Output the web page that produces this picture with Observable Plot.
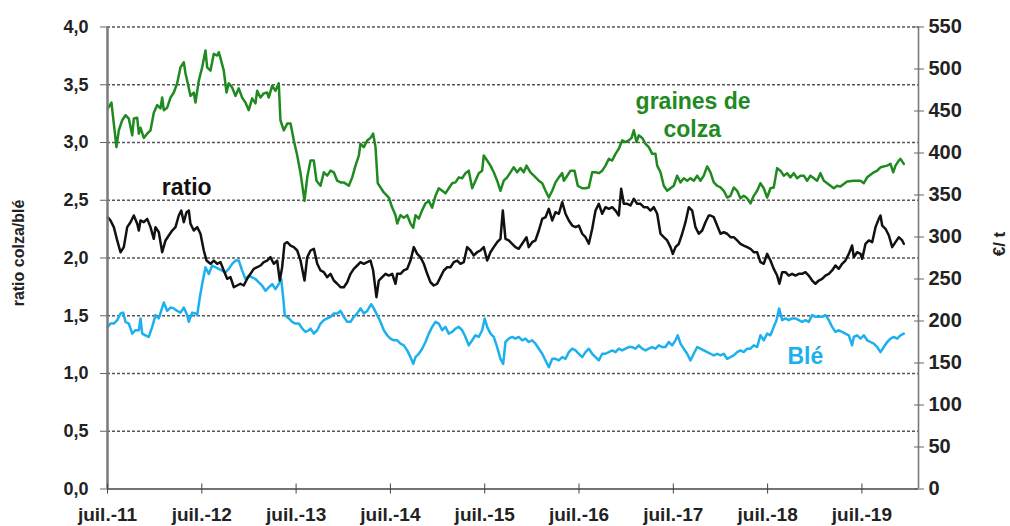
<!DOCTYPE html>
<html><head><meta charset="utf-8">
<script src="https://cdn.jsdelivr.net/npm/d3@7"></script>
<script src="https://cdn.jsdelivr.net/npm/@observablehq/plot@0.6"></script>
<style>body{margin:0;background:#fff} svg{display:block}</style>
</head><body><div id="chart"></div>
<script>
// ---- x axis ticks (decimal years, July = .5) ----
const xTicks = [2011.5,2012.5,2013.5,2014.5,2015.5,2016.5,2017.5,2018.5,2019.5];
const xLabels = ["juil.-11","juil.-12","juil.-13","juil.-14","juil.-15","juil.-16","juil.-17","juil.-18","juil.-19"];
const leftTicks = [0,0.5,1,1.5,2,2.5,3,3.5,4];
const rightTicks = [0,50,100,150,200,250,300,350,400,450,500,550];

// ---- graines de colza (€/t) ----
const colzaT = [2011.503,2011.542,2011.595,2011.620,2011.656,2011.691,2011.726,2011.762,2011.779,2011.815,2011.832,2011.850,2011.885,2011.921,2011.956,2011.991,2012.027,2012.062,2012.080,2012.097,2012.133,2012.168,2012.203,2012.239,2012.274,2012.309,2012.327,2012.345,2012.380,2012.415,2012.433,2012.468,2012.504,2012.539,2012.557,2012.592,2012.627,2012.663,2012.680,2012.698,2012.733,2012.762,2012.786,2012.822,2012.857,2012.892,2012.928,2012.963,2012.998,2013.034,2013.069,2013.087,2013.122,2013.157,2013.193,2013.210,2013.246,2013.281,2013.316,2013.334,2013.369,2013.406,2013.441,2013.476,2013.512,2013.547,2013.589,2013.618,2013.653,2013.688,2013.716,2013.759,2013.794,2013.830,2013.865,2013.900,2013.936,2013.971,2014.006,2014.059,2014.095,2014.130,2014.165,2014.183,2014.218,2014.254,2014.289,2014.317,2014.342,2014.366,2014.395,2014.430,2014.483,2014.519,2014.554,2014.572,2014.607,2014.642,2014.678,2014.713,2014.742,2014.766,2014.801,2014.837,2014.872,2014.907,2014.943,2014.978,2015.013,2015.049,2015.084,2015.119,2015.155,2015.190,2015.225,2015.261,2015.296,2015.331,2015.367,2015.402,2015.437,2015.473,2015.490,2015.526,2015.561,2015.596,2015.632,2015.667,2015.702,2015.738,2015.773,2015.808,2015.844,2015.879,2015.914,2015.943,2015.985,2016.021,2016.074,2016.110,2016.145,2016.180,2016.216,2016.251,2016.286,2016.322,2016.339,2016.375,2016.410,2016.452,2016.487,2016.534,2016.569,2016.604,2016.640,2016.675,2016.710,2016.746,2016.781,2016.816,2016.852,2016.887,2016.922,2016.958,2016.993,2017.028,2017.057,2017.081,2017.110,2017.134,2017.170,2017.205,2017.240,2017.276,2017.311,2017.329,2017.364,2017.399,2017.435,2017.470,2017.505,2017.541,2017.576,2017.611,2017.647,2017.682,2017.717,2017.753,2017.788,2017.823,2017.859,2017.894,2017.929,2017.965,2018.000,2018.035,2018.071,2018.106,2018.141,2018.177,2018.212,2018.247,2018.283,2018.318,2018.353,2018.389,2018.424,2018.459,2018.495,2018.530,2018.565,2018.601,2018.636,2018.671,2018.707,2018.742,2018.777,2018.813,2018.848,2018.884,2018.919,2018.954,2018.990,2019.025,2019.060,2019.096,2019.131,2019.202,2019.237,2019.272,2019.343,2019.414,2019.485,2019.520,2019.556,2019.626,2019.662,2019.697,2019.768,2019.803,2019.832,2019.856,2019.891,2019.909,2019.944];
const colzaV = [453,460,407,427,439,445,441,421,441,442,423,430,418,423,427,448,457,453,466,451,454,466,472,483,502,508,495,486,468,472,460,486,502,522,502,498,518,516,520,513,498,472,483,478,468,477,466,460,451,465,459,474,466,471,472,466,480,474,483,439,427,435,435,415,397,376,343,371,391,391,367,361,377,373,379,377,367,365,365,361,371,385,397,411,407,415,418,423,407,364,359,353,347,335,326,316,326,323,326,316,311,326,322,332,340,343,335,349,358,355,352,358,364,365,371,370,376,379,358,367,376,379,397,391,385,377,367,355,367,371,377,383,377,382,377,385,377,373,367,364,355,347,355,365,371,376,367,373,379,379,361,358,358,359,377,377,376,379,385,393,391,399,405,415,413,415,418,427,413,421,418,411,407,399,399,385,377,361,355,358,361,373,365,370,367,370,367,373,367,373,384,377,365,361,359,355,347,349,359,355,346,349,346,340,349,355,364,358,347,358,359,382,379,373,376,371,376,370,373,373,367,373,370,367,376,367,364,358,361,360,366,367,367,364,371,377,379,383,385,387,377,385,391,393,387];

// ---- ratio colza/blé ----
const ratioT = [2011.503,2011.532,2011.567,2011.603,2011.638,2011.673,2011.709,2011.744,2011.779,2011.815,2011.832,2011.850,2011.885,2011.921,2011.956,2011.991,2012.009,2012.044,2012.080,2012.115,2012.150,2012.186,2012.221,2012.256,2012.282,2012.309,2012.338,2012.362,2012.380,2012.415,2012.451,2012.486,2012.521,2012.550,2012.592,2012.627,2012.663,2012.698,2012.733,2012.769,2012.804,2012.839,2012.875,2012.910,2012.945,2012.981,2013.016,2013.051,2013.087,2013.122,2013.157,2013.193,2013.228,2013.263,2013.299,2013.327,2013.352,2013.377,2013.406,2013.441,2013.476,2013.512,2013.547,2013.589,2013.618,2013.653,2013.688,2013.724,2013.759,2013.794,2013.830,2013.865,2013.900,2013.936,2013.971,2014.006,2014.042,2014.077,2014.112,2014.148,2014.183,2014.218,2014.254,2014.289,2014.317,2014.352,2014.377,2014.413,2014.448,2014.483,2014.519,2014.554,2014.572,2014.607,2014.642,2014.678,2014.713,2014.748,2014.784,2014.819,2014.854,2014.890,2014.925,2014.960,2014.996,2015.031,2015.066,2015.102,2015.137,2015.172,2015.208,2015.243,2015.278,2015.314,2015.349,2015.384,2015.420,2015.455,2015.490,2015.526,2015.561,2015.596,2015.632,2015.667,2015.692,2015.720,2015.755,2015.791,2015.826,2015.861,2015.897,2015.943,2015.967,2016.003,2016.038,2016.074,2016.110,2016.145,2016.180,2016.216,2016.251,2016.286,2016.322,2016.357,2016.392,2016.428,2016.463,2016.498,2016.534,2016.569,2016.604,2016.640,2016.675,2016.710,2016.746,2016.781,2016.816,2016.852,2016.887,2016.922,2016.947,2016.975,2017.011,2017.046,2017.081,2017.117,2017.152,2017.187,2017.223,2017.258,2017.293,2017.329,2017.364,2017.399,2017.435,2017.470,2017.495,2017.523,2017.558,2017.594,2017.629,2017.664,2017.700,2017.735,2017.770,2017.806,2017.841,2017.876,2017.894,2017.929,2017.965,2018.000,2018.035,2018.071,2018.106,2018.141,2018.177,2018.212,2018.247,2018.283,2018.318,2018.353,2018.389,2018.424,2018.459,2018.495,2018.530,2018.565,2018.601,2018.625,2018.654,2018.689,2018.724,2018.760,2018.795,2018.830,2018.866,2018.901,2018.936,2018.972,2019.007,2019.043,2019.078,2019.113,2019.149,2019.184,2019.219,2019.255,2019.290,2019.325,2019.361,2019.396,2019.414,2019.449,2019.485,2019.503,2019.538,2019.573,2019.609,2019.644,2019.679,2019.697,2019.715,2019.750,2019.786,2019.821,2019.856,2019.891,2019.927,2019.944];
const ratioV = [2.353,2.325,2.267,2.152,2.050,2.094,2.267,2.310,2.368,2.296,2.238,2.325,2.310,2.339,2.267,2.166,2.267,2.223,2.050,2.152,2.195,2.238,2.267,2.368,2.411,2.310,2.397,2.411,2.296,2.238,2.267,2.210,2.065,1.978,1.950,1.978,1.950,1.964,1.892,1.820,1.834,1.747,1.762,1.777,1.762,1.820,1.863,1.906,1.920,1.935,1.964,1.978,2.007,1.950,1.978,1.805,1.920,2.123,2.137,2.108,2.094,2.065,1.978,1.805,2.007,2.065,2.080,1.950,1.892,1.877,1.834,1.863,1.805,1.777,1.747,1.747,1.790,1.863,1.906,1.935,1.964,1.950,1.964,1.978,1.892,1.661,1.805,1.834,1.863,1.848,1.863,1.777,1.863,1.863,1.892,1.906,1.978,2.094,2.036,2.007,1.950,1.863,1.790,1.762,1.777,1.834,1.892,1.920,1.920,1.964,1.978,1.950,1.964,2.094,2.065,2.022,2.050,2.065,2.094,1.978,2.050,2.094,2.137,2.166,2.411,2.166,2.152,2.123,2.094,2.080,2.123,2.180,2.094,2.137,2.152,2.238,2.339,2.353,2.426,2.325,2.397,2.383,2.483,2.383,2.325,2.281,2.267,2.281,2.210,2.180,2.123,2.253,2.411,2.469,2.383,2.440,2.426,2.440,2.411,2.368,2.599,2.469,2.469,2.455,2.513,2.469,2.469,2.440,2.440,2.411,2.440,2.383,2.210,2.180,2.152,2.094,2.036,2.094,2.123,2.210,2.310,2.440,2.411,2.267,2.210,2.238,2.310,2.368,2.368,2.353,2.281,2.210,2.223,2.210,2.180,2.180,2.152,2.123,2.108,2.094,2.080,2.050,2.050,1.964,1.950,2.036,1.978,1.906,1.848,1.777,1.877,1.877,1.848,1.863,1.848,1.863,1.863,1.877,1.848,1.805,1.777,1.805,1.820,1.848,1.863,1.892,1.935,1.906,1.950,1.978,2.036,2.108,2.007,2.050,2.036,1.993,2.123,2.152,2.137,2.267,2.339,2.368,2.281,2.253,2.195,2.094,2.137,2.180,2.152,2.123];

// ---- blé (€/t) ----
const bleT = [2011.503,2011.532,2011.567,2011.603,2011.638,2011.666,2011.691,2011.726,2011.762,2011.797,2011.832,2011.850,2011.868,2011.903,2011.938,2011.974,2012.009,2012.044,2012.080,2012.097,2012.133,2012.168,2012.203,2012.239,2012.274,2012.309,2012.345,2012.362,2012.398,2012.433,2012.451,2012.479,2012.504,2012.539,2012.574,2012.610,2012.645,2012.680,2012.716,2012.751,2012.786,2012.822,2012.857,2012.892,2012.928,2012.963,2012.998,2013.034,2013.069,2013.104,2013.140,2013.175,2013.210,2013.246,2013.281,2013.316,2013.342,2013.363,2013.380,2013.423,2013.458,2013.493,2013.529,2013.565,2013.600,2013.635,2013.653,2013.688,2013.724,2013.759,2013.794,2013.830,2013.865,2013.900,2013.936,2013.971,2014.006,2014.042,2014.077,2014.112,2014.148,2014.183,2014.218,2014.254,2014.296,2014.324,2014.360,2014.395,2014.430,2014.466,2014.501,2014.536,2014.572,2014.607,2014.642,2014.678,2014.713,2014.742,2014.766,2014.801,2014.837,2014.872,2014.907,2014.943,2014.978,2015.013,2015.049,2015.084,2015.119,2015.155,2015.190,2015.225,2015.261,2015.296,2015.331,2015.367,2015.402,2015.437,2015.473,2015.500,2015.526,2015.561,2015.596,2015.632,2015.667,2015.696,2015.720,2015.755,2015.791,2015.826,2015.861,2015.897,2015.932,2015.967,2016.003,2016.038,2016.074,2016.110,2016.145,2016.180,2016.216,2016.251,2016.286,2016.322,2016.357,2016.392,2016.428,2016.463,2016.498,2016.534,2016.569,2016.604,2016.640,2016.675,2016.710,2016.746,2016.781,2016.816,2016.852,2016.887,2016.922,2016.958,2016.993,2017.028,2017.064,2017.099,2017.134,2017.170,2017.205,2017.240,2017.276,2017.311,2017.346,2017.382,2017.417,2017.452,2017.488,2017.523,2017.547,2017.576,2017.611,2017.647,2017.682,2017.717,2017.753,2017.788,2017.823,2017.859,2017.894,2017.929,2017.965,2018.000,2018.035,2018.071,2018.106,2018.141,2018.177,2018.212,2018.247,2018.283,2018.318,2018.353,2018.389,2018.424,2018.459,2018.495,2018.530,2018.565,2018.594,2018.622,2018.654,2018.689,2018.724,2018.760,2018.795,2018.830,2018.866,2018.901,2018.936,2018.972,2019.007,2019.043,2019.078,2019.113,2019.149,2019.184,2019.219,2019.255,2019.290,2019.325,2019.361,2019.396,2019.414,2019.449,2019.485,2019.520,2019.556,2019.591,2019.626,2019.662,2019.697,2019.732,2019.768,2019.803,2019.838,2019.874,2019.909,2019.944];
const bleV = [193,197,197,201,209,210,199,197,185,189,189,203,185,183,181,193,207,203,216,222,212,216,215,212,210,216,207,199,210,209,207,228,244,264,256,266,264,262,260,258,262,268,272,272,260,250,254,252,250,246,242,236,240,244,238,244,250,228,207,203,199,197,197,191,187,189,191,185,189,197,201,203,205,209,209,212,205,199,199,205,209,215,209,212,220,215,207,199,189,183,179,177,177,173,171,165,157,149,157,161,167,175,185,193,199,197,189,193,185,187,191,193,189,181,171,177,183,181,189,203,193,185,181,169,155,149,175,179,181,179,181,177,179,175,177,173,167,161,153,145,155,155,153,157,155,163,167,165,161,157,163,167,161,157,153,161,161,163,165,163,167,165,167,169,169,167,171,167,165,167,169,167,171,169,169,175,171,177,183,173,167,161,153,161,169,167,165,163,161,159,161,159,161,155,157,159,163,165,163,167,167,171,169,183,177,185,183,193,201,215,201,203,201,203,203,201,199,201,199,207,205,205,205,207,201,193,187,189,187,185,183,171,181,183,179,183,177,175,173,169,163,169,175,179,181,179,183,185];

// ---- styling ----
const GREEN = "#1f8a1f", BLUE = "#1db0ee", BLACK = "#111111";
const EURO = 4 / 550; // right axis (€/t) mapped onto left axis (ratio) units
const X0 = 2011.5, X1 = 2020.1;

const pairs = (ts, vs) => ts.map((t, i) => ({t, v: vs[i]}));
const colza = pairs(colzaT, colzaV);
const ratio = pairs(ratioT, ratioV);
const ble = pairs(bleT, bleV);

const annotations = [
  {x: 2012.34, y: 2.605, text: "ratio", color: BLACK},
  {x: 2017.71, y: 3.352, text: "graines de", color: GREEN},
  {x: 2017.70, y: 3.113, text: "colza", color: GREEN},
  {x: 2018.90, y: 1.147, text: "Blé", color: BLUE}
];

const chart = Plot.plot({
  width: 1010, height: 526,
  marginLeft: 107, marginRight: 92, marginTop: 26.5, marginBottom: 37.5,
  x: {domain: [X0, X1]},
  y: {domain: [0, 4]},
  style: {fontFamily: "'Liberation Sans', Arial, sans-serif", background: "#fff", color: "#222", overflow: "visible"},
  marks: [
    Plot.gridY(leftTicks.filter(d => d > 0), {stroke: "#555", strokeOpacity: 1, strokeWidth: 1.3, strokeDasharray: "3,2"}),
    Plot.line(colza, {x: "t", y: d => d.v * EURO, stroke: GREEN, strokeWidth: 2.5}),
    Plot.line(ble, {x: "t", y: d => d.v * EURO, stroke: BLUE, strokeWidth: 2.5}),
    Plot.line(ratio, {x: "t", y: "v", stroke: BLACK, strokeWidth: 2.5}),
    Plot.ruleX([X0], {stroke: "#7a7a7a", strokeWidth: 2.5}),
    Plot.ruleX([X1], {stroke: "#7a7a7a", strokeWidth: 1.6}),
    Plot.ruleY([0], {stroke: "#444", strokeWidth: 1.6}),
    Plot.axisY({ticks: leftTicks, tickFormat: d => d.toFixed(1).replace(".", ","), tickSize: 7, tickPadding: 12,
      fontSize: 18, fontWeight: "bold", stroke: "#666", label: null}),
    Plot.axisY({anchor: "right", ticks: rightTicks.map(v => v * EURO), tickFormat: d => String(Math.round(d / EURO)),
      tickSize: 10, dx: -5, tickPadding: 5, fontSize: 20, fontWeight: "bold", stroke: "#666", label: null}),
    Plot.axisX({ticks: xTicks, tickFormat: d => xLabels[xTicks.indexOf(d)], tickSize: 10, dy: -5, tickPadding: 13,
      fontSize: 19, fontWeight: "bold", stroke: "#444", label: null}),
    Plot.text(annotations, {x: "x", y: "y", text: "text", fill: "color", fontSize: 23, fontWeight: "bold"}),
    Plot.text(["ratio colza/blé"], {frameAnchor: "left", textAnchor: "middle", dx: -89, dy: -5, rotate: -90, fontSize: 16, fontWeight: "bold", fill: "#222"}),
    Plot.text(["€/ t"], {frameAnchor: "right", textAnchor: "middle", dx: 81, dy: -14, rotate: -90, fontSize: 17, fontWeight: "bold", fill: "#222"})
  ]
});
document.getElementById("chart").append(chart);
</script>
</body></html>
